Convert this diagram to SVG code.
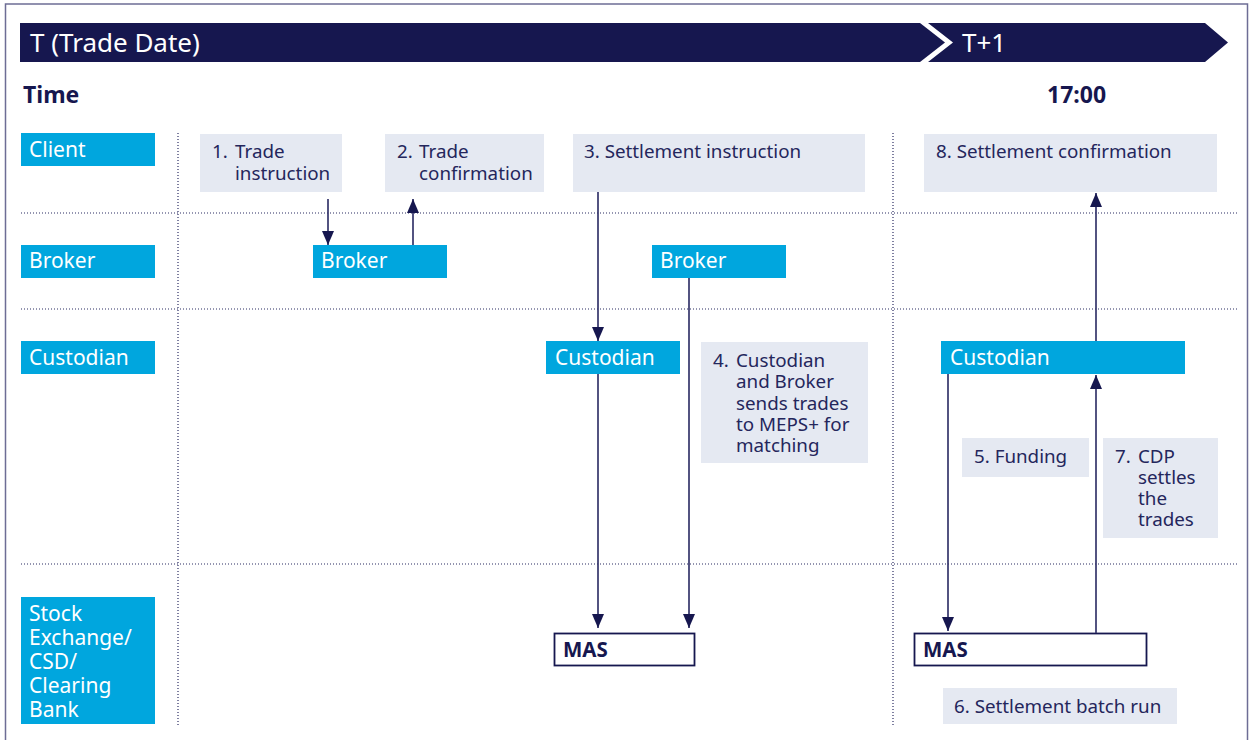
<svg xmlns="http://www.w3.org/2000/svg" width="1250" height="740" viewBox="0 0 1250 740">
<defs>
<style>
.hdr{fill:#16174f}
.hdrt{font-family:"Noto Sans",sans-serif;font-size:26px;fill:#ffffff}
.bold{font-family:"Noto Sans",sans-serif;font-weight:bold;font-size:23px;fill:#16174f}
.lane{fill:#00a6de}
.lanet{font-family:"Noto Sans",sans-serif;font-size:21px;fill:#ffffff}
.note{fill:#e5e9f2}
.notet{font-family:"Noto Sans",sans-serif;font-size:18.8px;fill:#24265c}
.mas{fill:#ffffff;stroke:#16174f;stroke-width:1.8}
.mast{font-family:"Noto Sans",sans-serif;font-weight:bold;font-size:20.5px;fill:#16174f}
.dot{stroke:#2b2c63;stroke-width:1.2;stroke-dasharray:1 2;fill:none}
.arr{stroke:#34356b;stroke-width:1.7;fill:none;marker-end:url(#ah)}
</style>
<marker id="ah" viewBox="0 0 14 12" refX="14" refY="6" markerWidth="14" markerHeight="12" markerUnits="userSpaceOnUse" orient="auto">
<path d="M0,0 L14,6 L0,12 z" fill="#16174f"/>
</marker>
</defs>
<rect x="0" y="0" width="1250" height="740" fill="#ffffff"/>
<rect x="5.5" y="4" width="1242" height="745" fill="none" stroke="#6d6d95" stroke-width="1.5"/>

<g id="header">
<polygon class="hdr" points="20,23 920,23 945,42.5 920,62 20,62"/>
<polygon class="hdr" points="928,23 1205,23 1228,42.5 1205,62 928,62 953,42.5"/>
<text class="hdrt" x="30" y="52">T (Trade Date)</text>
<text class="hdrt" x="962" y="52">T+1</text>
</g>
<g id="time">
<text class="bold" x="23" y="103">Time</text>
<text class="bold" x="1047" y="103">17:00</text>
</g>

<g id="gridlines">
<line class="dot" x1="21" y1="213" x2="1238" y2="213"/>
<line class="dot" x1="21" y1="309" x2="1238" y2="309"/>
<line class="dot" x1="21" y1="564" x2="1238" y2="564"/>
<line class="dot" x1="178" y1="133" x2="178" y2="725"/>
<line class="dot" x1="893" y1="133" x2="893" y2="725"/>
</g>

<g id="lane-client"><rect class="lane" x="21" y="133" width="134" height="33"/><text class="lanet" x="29" y="157">Client</text></g>
<g id="lane-broker"><rect class="lane" x="21" y="245" width="134" height="33"/><text class="lanet" x="29" y="268">Broker</text></g>
<g id="lane-custodian"><rect class="lane" x="21" y="341" width="134" height="33"/><text class="lanet" x="29" y="365">Custodian</text></g>
<g id="lane-exchange"><rect class="lane" x="21" y="597" width="134" height="127"/>
<text class="lanet"><tspan x="29" y="621">Stock</tspan><tspan x="29" y="645">Exchange/</tspan><tspan x="29" y="669">CSD/</tspan><tspan x="29" y="693">Clearing</tspan><tspan x="29" y="717">Bank</tspan></text></g>

<g id="step1"><rect class="note" x="200" y="134" width="142" height="58"/>
<text class="notet"><tspan x="212" y="158">1.</tspan><tspan x="235" y="158">Trade</tspan><tspan x="235" y="180">instruction</tspan></text></g>
<g id="step2"><rect class="note" x="385" y="134" width="159" height="58"/>
<text class="notet"><tspan x="397" y="158">2.</tspan><tspan x="419" y="158">Trade</tspan><tspan x="419" y="180">confirmation</tspan></text></g>
<g id="step3"><rect class="note" x="573" y="134" width="292" height="58"/>
<text class="notet" x="584" y="158">3. Settlement instruction</text></g>
<g id="step8"><rect class="note" x="924" y="134" width="293" height="58"/>
<text class="notet" x="936" y="158">8. Settlement confirmation</text></g>

<g id="broker1"><rect class="lane" x="313" y="245" width="134" height="33"/><text class="lanet" x="321" y="268">Broker</text></g>
<g id="broker2"><rect class="lane" x="652" y="245" width="134" height="33"/><text class="lanet" x="660" y="268">Broker</text></g>
<g id="custodian1"><rect class="lane" x="546" y="341" width="134" height="33"/><text class="lanet" x="555" y="365">Custodian</text></g>
<g id="custodian2"><rect class="lane" x="941" y="341" width="244" height="33"/><text class="lanet" x="950" y="365">Custodian</text></g>

<g id="step4"><rect class="note" x="701" y="342" width="167" height="121"/>
<text class="notet"><tspan x="713" y="367">4.</tspan><tspan x="736" y="367">Custodian</tspan><tspan x="736" y="388">and Broker</tspan><tspan x="736" y="409.5">sends trades</tspan><tspan x="736" y="431">to MEPS+ for</tspan><tspan x="736" y="452">matching</tspan></text></g>
<g id="step5"><rect class="note" x="962" y="438" width="127" height="39"/>
<text class="notet" x="974" y="463">5. Funding</text></g>
<g id="step7"><rect class="note" x="1103" y="438" width="115" height="100"/>
<text class="notet"><tspan x="1115" y="463">7.</tspan><tspan x="1138" y="463">CDP</tspan><tspan x="1138" y="484">settles</tspan><tspan x="1138" y="505">the</tspan><tspan x="1138" y="526">trades</tspan></text></g>

<g id="mas1"><rect class="mas" x="554.5" y="633.5" width="140" height="32"/><text class="mast" x="563" y="657">MAS</text></g>
<g id="mas2"><rect class="mas" x="914.5" y="633.5" width="232" height="32"/><text class="mast" x="923" y="657">MAS</text></g>
<g id="step6"><rect class="note" x="943" y="688" width="234" height="36"/>
<text class="notet" x="954" y="713">6. Settlement batch run</text></g>

<g id="connectors">
<line class="arr" x1="328" y1="199" x2="328" y2="245"/>
<line class="arr" x1="413" y1="245" x2="413" y2="199"/>
<line class="arr" x1="598" y1="192" x2="598" y2="341"/>
<line class="arr" x1="598" y1="374" x2="598" y2="628"/>
<line class="arr" x1="689" y1="278" x2="689" y2="628"/>
<line class="arr" x1="948" y1="374" x2="948" y2="631"/>
<line class="arr" x1="1096" y1="633" x2="1096" y2="375"/>
<line class="arr" x1="1096" y1="341" x2="1096" y2="193"/>
</g>
</svg>
